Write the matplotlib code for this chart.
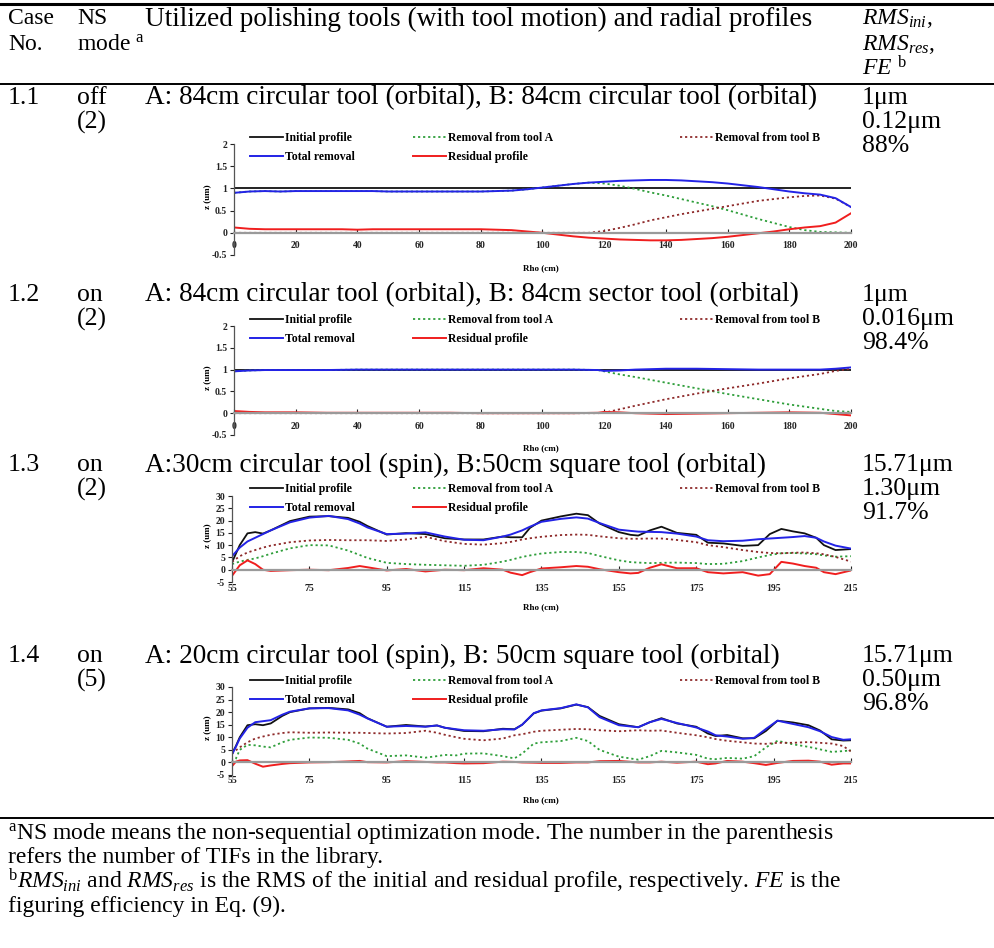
import matplotlib
matplotlib.use("Agg")
import matplotlib.pyplot as plt
from matplotlib.lines import Line2D

plt.rcParams["font.family"] = ["Liberation Serif", "DejaVu Serif"]
plt.rcParams["mathtext.fontset"] = "custom"
plt.rcParams["mathtext.rm"] = "Liberation Serif"
plt.rcParams["mathtext.it"] = "Liberation Serif:italic"
plt.rcParams["mathtext.bf"] = "Liberation Serif:bold"

W, H = 995, 948

# ---- case 1.1 ----
rho1 = [0, 5, 10, 15, 20, 25, 30, 35, 40, 45, 50, 55, 60, 65, 70, 75, 80, 85, 90, 95, 100,
        105, 110, 115, 120, 125, 130, 135, 140, 145, 150, 155, 160, 165, 170, 175, 180,
        185, 190, 195, 200]
rho1_init = [0, 200]
init1 = [1.02, 1.02]
total1 = [0.90, 0.93, 0.94, 0.93, 0.94, 0.94, 0.94, 0.94, 0.94, 0.94, 0.93, 0.93, 0.93, 0.93,
          0.93, 0.93, 0.93, 0.94, 0.95, 0.98, 1.02, 1.06, 1.10, 1.13, 1.15, 1.17, 1.18, 1.19,
          1.19, 1.18, 1.16, 1.14, 1.11, 1.07, 1.03, 0.98, 0.93, 0.89, 0.86, 0.78, 0.58]
toolA1 = [0.90, 0.93, 0.94, 0.93, 0.94, 0.94, 0.94, 0.94, 0.94, 0.94, 0.93, 0.93, 0.93, 0.93,
          0.93, 0.93, 0.93, 0.94, 0.95, 0.98, 1.02, 1.06, 1.10, 1.13, 1.11, 1.06, 0.99, 0.91,
          0.84, 0.76, 0.68, 0.60, 0.51, 0.41, 0.31, 0.22, 0.13, 0.06, 0.02, 0.01, 0.00]
toolB1 = [0.00, 0.00, 0.00, 0.00, 0.00, 0.00, 0.00, 0.00, 0.00, 0.00, 0.00, 0.00, 0.00, 0.00,
          0.00, 0.00, 0.00, 0.00, 0.00, 0.00, 0.00, 0.00, 0.00, 0.00, 0.04, 0.11, 0.19, 0.28,
          0.35, 0.42, 0.48, 0.54, 0.60, 0.66, 0.72, 0.76, 0.80, 0.83, 0.84, 0.77, 0.58]
resid1 = [0.12, 0.09, 0.08, 0.08, 0.08, 0.08, 0.08, 0.08, 0.07, 0.08, 0.08, 0.08, 0.08, 0.08,
          0.08, 0.08, 0.08, 0.07, 0.06, 0.03, 0.00, -0.04, -0.08, -0.11, -0.13, -0.15, -0.16,
          -0.17, -0.17, -0.16, -0.14, -0.12, -0.09, -0.05, -0.01, 0.03, 0.08, 0.12, 0.15,
          0.23, 0.44]

# ---- case 1.2 ----
rho2 = [0, 5, 10, 20, 30, 40, 50, 60, 70, 80, 90, 100, 110, 118, 120, 125, 130, 140, 150,
        160, 170, 180, 190, 195, 200]
rho2_init = [0, 200]
init2 = [1.0, 1.0]
total2 = [0.96, 0.98, 0.99, 0.99, 0.99, 1.0, 1.0, 1.0, 1.0, 1.0, 1.0, 1.0, 1.0, 0.99, 0.97,
          0.98, 1.0, 1.02, 1.02, 1.01, 1.0, 1.0, 1.0, 1.02, 1.05]
toolA2 = [0.96, 0.98, 0.99, 0.99, 0.99, 1.0, 1.0, 1.0, 1.0, 1.0, 1.0, 1.0, 1.0, 0.99, 0.96,
          0.89, 0.83, 0.70, 0.57, 0.44, 0.32, 0.20, 0.10, 0.05, 0.03]
toolB2 = [0.0, 0.0, 0.0, 0.0, 0.0, 0.0, 0.0, 0.0, 0.0, 0.0, 0.0, 0.0, 0.0, 0.0, 0.01, 0.09,
          0.17, 0.32, 0.45, 0.57, 0.68, 0.80, 0.90, 0.97, 1.02]
resid2 = [0.05, 0.03, 0.02, 0.02, 0.01, 0.01, 0.01, 0.01, 0.01, 0.0, 0.0, 0.0, 0.0, 0.01,
          0.03, 0.02, 0.0, -0.02, -0.01, 0.0, 0.01, 0.02, 0.01, -0.02, -0.05]

# ---- case 1.3 ----
rho3 = [55, 57, 59, 61, 63, 65, 70, 75, 80, 85, 88, 90, 95, 100, 105, 110, 115, 120, 125,
        127, 130, 132, 135, 140, 144, 147, 150, 155, 158, 160, 163, 166, 170, 175, 178, 182,
        187, 191, 194, 197, 200, 203, 206, 208, 211, 215]
init3 = [3, 10, 14.8, 15.3, 14.7, 16, 19.8, 21.6, 21.8, 21.1, 19.5, 17.8, 14.3, 14.9, 14.5,
         12.8, 12.3, 12.3, 13.5, 13.2, 13.2, 17, 20, 21.7, 22.8, 22.2, 18.8, 15.3, 14.2, 13.9,
         16, 17.5, 15, 14.2, 11, 10.7, 9.7, 10, 14.5, 16.6, 15.6, 14.8, 13, 10, 8, 8.4]
total3 = [5.5, 9, 11.5, 13, 14.5, 16, 19.3, 21.2, 21.9, 20.6, 18.8, 17.2, 14.5, 14.7, 15.2,
          13.5, 12.2, 12, 13.5, 14.3, 16, 17.5, 19.5, 20.7, 21.3, 20.8, 19, 16.3, 15.8, 15.5,
          15.4, 15.3, 14.7, 13.5, 12, 11.6, 11.8, 12.4, 12.7, 13, 13.3, 13.7, 13, 11.5, 9.8,
          8.6]
toolA3 = [2.3, 3.3, 4, 4.6, 5.5, 6.5, 8.7, 10, 9.9, 7.8, 6, 4.8, 2.8, 2.3, 2, 1.8, 1.6, 2,
          3.3, 4, 5.2, 5.8, 6.6, 7.2, 7.2, 6.8, 5.6, 3.8, 3.1, 2.9, 2.7, 2.8, 2.9, 2.7, 2.3,
          2.4, 3.5, 5, 6, 6.7, 6.8, 6.6, 6.3, 5.8, 5.3, 5.5]
toolB3 = [3.2, 5.5, 7, 8, 9, 9.8, 11.2, 11.9, 12.1, 12, 12, 12, 11.7, 12.3, 13.4, 11.6, 10.5,
          10.2, 10.8, 11.3, 12.3, 12.8, 13.4, 14.1, 14.3, 14.2, 13.6, 12.8, 12.6, 12.6, 12.7,
          12.7, 12.1, 11.2, 10, 9.2, 8, 7.2, 6.8, 6.7, 6.9, 7, 6.7, 6.3, 5.2, 3.3]
resid3 = [-2.5, 1.8, 3.8, 2.3, 0, -0.5, -0.2, 0, -0.2, 0.7, 1.5, 1, -0.3, 0.3, -0.7, 0, -0.2,
          0.6, 0, -1.2, -2.2, -1, 0.5, 1, 1.5, 1.2, 0.2, -1, -1.5, -1.3, 0.8, 2.2, 0.6, 0.6,
          -1, -1.5, -1, -2.4, -1.8, 3.2, 2.5, 1.5, 0.8, -1, -1.8, -0.3]

# ---- case 1.4 ----
rho4 = [55, 56, 57, 59, 61, 63, 65, 68, 70, 75, 80, 85, 88, 90, 95, 100, 105, 108, 110, 113,
        115, 120, 125, 128, 130, 133, 135, 140, 144, 147, 150, 155, 160, 163, 166, 170, 175,
        178, 180, 183, 187, 190, 193, 196, 200, 204, 207, 210, 213, 215]
init4 = [3.5, 6.5, 10, 14.8, 15.2, 14.8, 15.5, 18.5, 20, 21.5, 21.7, 21.1, 19.6, 17.6, 14.2,
         14.9, 14.3, 14.7, 13.8, 13, 12.5, 12.4, 13.4, 13.2, 15, 19.5, 20.6, 21.5, 23, 22,
         18.5, 15.2, 14, 16, 17.6, 15.5, 14.2, 11.5, 10.5, 10.9, 9.6, 9.6, 12.5, 16.6, 15.9,
         14.8, 12.7, 9.2, 8.7, 8.8]
total4 = [3.2, 6.2, 9.5, 13.8, 16, 16.4, 16.8, 19, 20.2, 21.5, 21.6, 20.7, 19, 17.5, 14.2,
          14.5, 14.2, 14.7, 13.8, 13.2, 12.8, 12.6, 13.2, 13.1, 15, 19.6, 20.7, 21.6, 23.1,
          21.9, 18, 14.8, 14, 16, 17.3, 15.7, 13.9, 12.3, 10.8, 10.3, 9.4, 9.8, 13.3, 16.6,
          15.3, 14, 12.4, 10.1, 9, 9.2]
toolA4 = [0, 1.5, 5, 7, 6.8, 6.3, 6, 8, 9, 9.9, 9.8, 9, 7.5, 5.5, 2.5, 2.8, 1.9, 2.5, 3, 2.8,
          3.5, 3.6, 2.5, 1.6, 3.5, 7.5, 8, 8.5, 9.8, 8.5, 5, 2.3, 1.1, 2.5, 4.6, 4, 3, 1.5,
          1.3, 1.8, 1.5, 2.5, 6, 8.6, 7.2, 6.2, 5.2, 4.2, 4.5, 4.8]
toolB4 = [3.5, 4.8, 6, 8, 9.5, 10.3, 11, 11.7, 12, 11.8, 11.9, 11.8, 11.8, 11.7, 11.5, 11.7,
          12.6, 11.8, 11, 10, 9.4, 8.8, 9.5, 10.8, 11.2, 12.2, 12.6, 13, 13.3, 13.2, 12.8,
          12.4, 12.8, 12.6, 12.7, 11.8, 10.8, 10, 9.3, 8.6, 8, 7.5, 7.4, 7.8, 7.8, 8.1, 7.8,
          7.5, 6.5, 4.3]
resid4 = [-1.5, 0.3, 0.8, 0.9, -0.5, -1.7, -1.2, -0.6, -0.3, 0, 0.1, 0.4, 0.6, 0.1, 0, 0.5,
          0.2, 0, 0, -0.3, -0.4, -0.3, 0.3, 0.2, 0, -0.1, -0.2, -0.2, 0, 0, 0.5, 0.6, 0, 0,
          0.3, -0.1, 0.3, -0.7, -0.4, 0.6, 0.3, -0.3, -1, -0.2, 0.6, 0.7, 0.3, -0.9, -0.4,
          -0.4]

# ---- table text ----
case_no = ["1.1", "1.2", "1.3", "1.4"]
ns_mode = ["off", "on", "on", "on"]
n_tifs = ["(2)", "(2)", "(2)", "(5)"]
tool_titles = ["A: 84cm circular tool (orbital), B: 84cm circular tool (orbital)",
               "A: 84cm circular tool (orbital), B: 84cm sector tool (orbital)",
               "A:30cm circular tool (spin), B:50cm square tool (orbital)",
               "A: 20cm circular tool (spin), B: 50cm square tool (orbital)"]
rms_ini = ["1\u03bcm", "1\u03bcm", "15.71\u03bcm", "15.71\u03bcm"]
rms_res = ["0.12\u03bcm", "0.016\u03bcm", "1.30\u03bcm", "0.50\u03bcm"]
fe = ["88%", "98.4%", "91.7%", "96.8%"]
labels = ["Initial profile", "Removal from tool A", "Removal from tool B",
          "Total removal", "Residual profile"]

fig = plt.figure(figsize=(W / 100, H / 100), dpi=100)


def fx(x):
    return x / W


def fy(y):
    return 1 - y / H


def txt(x, y, s, size=18, **kw):
    fig.text(fx(x), fy(y), s, fontsize=size, va="center", ha=kw.pop("ha", "left"), **kw)


# rules
for y, lw in [(4, 2.2), (84, 1.4), (818, 1.4)]:
    fig.add_artist(Line2D([0, 1], [fy(y), fy(y)], color="black", lw=lw,
                          transform=fig.transFigure))

# header
txt(8, 19, "Case", size=17)
txt(8, 44, "No.", size=17)
txt(77, 19, "NS", size=17)
txt(77, 44, r"mode $^{\mathrm{a}}$", size=17)
txt(145, 19, "Utilized polishing tools (with tool motion) and radial profiles", size=19.6)
txt(862, 19, r"$\mathit{RMS}_{\mathit{ini}}$,", size=17)
txt(862, 44, r"$\mathit{RMS}_{\mathit{res}}$,", size=17)
txt(862, 68, r"$\mathit{FE}$ $^{\mathrm{b}}$", size=17)

row_y = [98, 295, 465, 656]
for i, y in enumerate(row_y):
    txt(8, y, case_no[i], size=18.5)
    txt(77, y, ns_mode[i], size=18.5)
    txt(77, y + 24, n_tifs[i], size=18.5)
    txt(145, y, tool_titles[i], size=19.6)
    txt(862, y, rms_ini[i], size=18.5)
    txt(862, y + 24, rms_res[i], size=18.5)
    txt(862, y + 48, fe[i], size=18.5)

# footnotes
fsz = 17
txt(8, 833, r"$^{\mathrm{a}}$NS mode means the non-sequential optimization mode. "
    "The number in the parenthesis", size=fsz)
txt(8, 857, "refers the number of TIFs in the library.", size=fsz)
txt(8, 881, r"$^{\mathrm{b}}\mathit{RMS}_{\mathit{ini}}$ and $\mathit{RMS}_{\mathit{res}}$ "
    r"is the RMS of the initial and residual profile, respectively. $\mathit{FE}$ is the",
    size=fsz)
txt(8, 906, "figuring efficiency in Eq. (9).", size=fsz)

charts = [
    dict(rho=rho1, rho_init=rho1_init, init=init1, A=toolA1, B=toolB1, tot=total1, res=resid1,
         top=144, bot=255, left=234, right=851, xlim=(0, 200), xt=range(0, 201, 20),
         ylim=(-0.5, 2), yt=[-0.5, 0, 0.5, 1, 1.5, 2], leg=137, rho_y=268, pad=6),
    dict(rho=rho2, rho_init=rho2_init, init=init2, A=toolA2, B=toolB2, tot=total2, res=resid2,
         top=326, bot=435, left=234, right=851, xlim=(0, 200), xt=range(0, 201, 20),
         ylim=(-0.5, 2), yt=[-0.5, 0, 0.5, 1, 1.5, 2], leg=319, rho_y=448, pad=6),
    dict(rho=rho3, rho_init=rho3, init=init3, A=toolA3, B=toolB3, tot=total3, res=resid3,
         top=496, bot=582, left=232, right=851, xlim=(55, 215), xt=range(55, 216, 20),
         ylim=(-5, 30), yt=range(-5, 31, 5), leg=488, rho_y=607, pad=10),
    dict(rho=rho4, rho_init=rho4, init=init4, A=toolA4, B=toolB4, tot=total4, res=resid4,
         top=687, bot=775, left=232, right=851, xlim=(55, 215), xt=range(55, 216, 20),
         ylim=(-5, 30), yt=range(-5, 31, 5), leg=680, rho_y=800, pad=10),
]

tick_font = dict(family="Liberation Serif", weight="bold", size=7)
for c in charts:
    ax = fig.add_axes([fx(c["left"]), fy(c["bot"]), (c["right"] - c["left"]) / W,
                       (c["bot"] - c["top"]) / H])
    # spine position first: moving a spine resets the ticks
    for s in ["top", "right"]:
        ax.spines[s].set_visible(False)
    ax.spines["bottom"].set_position(("data", 0))
    ax.spines["bottom"].set_color("#9a9a9a")
    ax.spines["bottom"].set_linewidth(1.6)
    ax.spines["left"].set_color("#555555")
    ax.spines["left"].set_linewidth(0.9)
    ax.set_facecolor("none")

    l_init, = ax.plot(c["rho_init"], c["init"], color="#111111", lw=1.3)
    l_a, = ax.plot(c["rho"], c["A"], color="#2e9e3a", lw=1.3, linestyle=(0, (1.2, 1.6)))
    l_b, = ax.plot(c["rho"], c["B"], color="#8e2a2a", lw=1.3, linestyle=(0, (1.2, 1.6)))
    l_tot, = ax.plot(c["rho"], c["tot"], color="#2323e6", lw=1.4)
    l_res, = ax.plot(c["rho"], c["res"], color="#f01e1e", lw=1.4)
    ax.set_xlim(*c["xlim"])
    ax.set_ylim(*c["ylim"])
    ax.set_xticks(list(c["xt"]))
    ax.set_yticks(list(c["yt"]))
    ax.set_yticklabels([("%g" % v) for v in c["yt"]], fontdict=tick_font)
    ax.set_xticklabels([str(v) for v in c["xt"]], fontdict=tick_font)
    ax.tick_params(axis="y", direction="out", length=3, width=0.8, pad=2, colors="#222222")
    ax.tick_params(axis="x", direction="in", length=3, width=0.8, pad=c["pad"],
                   colors="#222222")
    fig.text(fx(208), fy((c["top"] + c["bot"]) / 2 - 3), "z (um)", rotation=90,
             fontsize=6.5, weight="bold", ha="center", va="center")
    fig.text(fx(541), fy(c["rho_y"]), "Rho (cm)", fontsize=6.5, weight="bold",
             ha="center", va="center")

    leg_kw = dict(loc="upper left", frameon=False, borderpad=0, borderaxespad=0,
                  handlelength=2.8, handletextpad=0.15, labelspacing=0.62,
                  prop=dict(family="Liberation Serif", weight="bold", size=8.5),
                  bbox_transform=fig.transFigure)
    top_px = c["leg"] - 5
    fig.legend([l_init, l_tot], [labels[0], labels[3]],
               bbox_to_anchor=(fx(250), fy(top_px)), **leg_kw)
    fig.legend([l_a, l_res], [labels[1], labels[4]],
               bbox_to_anchor=(fx(413), fy(top_px)), **leg_kw)
    fig.legend([l_b], [labels[2]],
               bbox_to_anchor=(fx(680), fy(top_px)), **leg_kw)

fig.savefig("out.png", dpi=100)
